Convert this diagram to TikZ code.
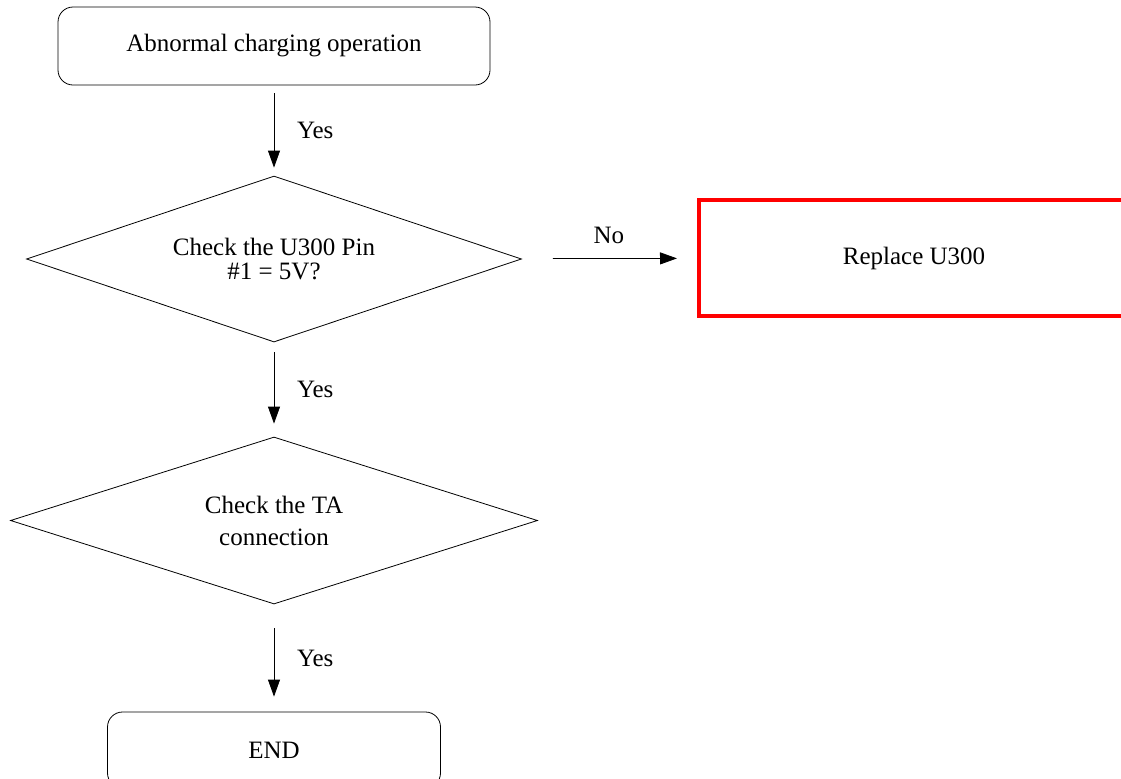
\documentclass[tikz,border=0pt]{standalone}
\usepackage{fontspec}
\setmainfont{Liberation Serif}
\usetikzlibrary{positioning,shapes.geometric,arrows.meta}

\begin{document}
\begin{tikzpicture}[x=0.5pt,y=-0.5pt,
    font=\fontsize{12.5}{16}\selectfont,
    roundbox/.style={draw,thin,rounded corners=7.5pt,minimum width=#1,minimum height=39pt},
    decision/.style={draw,thin,diamond,aspect=3,inner sep=0pt,align=center},
    flow/.style={-{Triangle[length=8.5pt,width=6pt]},thin}]
    \useasboundingbox (0,0) rectangle (1121,778);
    \node[roundbox=216pt] (start) at (274,46) {Abnormal charging operation};
    \node[decision,minimum width=247.5pt,minimum height=83pt,
          font=\fontsize{12.5}{12}\selectfont] (pin) at (274,259) {Check the U300 Pin\\\#1 = 5V?};
    \node[draw=red,line width=2pt,minimum width=215pt,minimum height=58pt] (repl) at (914,258) {Replace U300};
    \node[decision,minimum width=263.5pt,minimum height=83.5pt] (ta) at (274,520.5) {Check the TA\\connection};
    \node[roundbox=166.5pt,minimum height=38pt] (end) at (274,750) {END};
    \draw[flow,shorten <=4pt,shorten >=4pt] (start) -- node[midway,right=8pt] {Yes} (pin);
    \draw[flow,shorten <=16pt,shorten >=10pt] (pin) -- node[midway,above=4pt] {No} (repl);
    \draw[flow,shorten <=5pt,shorten >=6.5pt] (pin) -- node[midway,right=8pt] {Yes} (ta);
    \draw[flow,shorten <=12pt,shorten >=7.5pt] (ta) -- node[midway,right=8pt] {Yes} (end);
\end{tikzpicture}
\end{document}
